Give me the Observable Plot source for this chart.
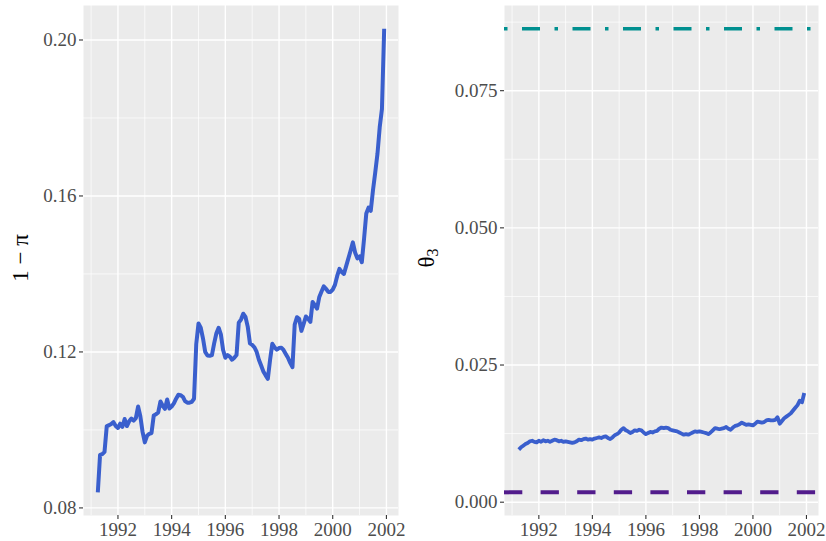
<!DOCTYPE html>
<html><head><meta charset="utf-8">
<script src="https://cdn.jsdelivr.net/npm/d3@7"></script>
<script src="https://cdn.jsdelivr.net/npm/@observablehq/plot@0.6"></script>
<style>
html,body{margin:0;padding:0;background:#fff;}
#chart{display:flex;width:826px;height:541px;}
#chart svg{display:block;}
#chart svg, #chart svg text{font-family:'Liberation Serif', 'DejaVu Serif', serif !important;}
</style></head><body><div id="chart"></div>
<script>
// Monthly observations, April 1991 – December 2001
const startYear = 1991, startMonth = 4;

const oneMinusPi = [
  0.0840, 0.0936, 0.0938, 0.0944, 0.1010, 0.1012, 0.1015, 0.1020, 0.1010,
  0.1005, 0.1016, 0.1008, 0.1028, 0.1010, 0.1022, 0.1029, 0.1024, 0.1030, 0.1060, 0.1035, 0.0995,
  0.0968, 0.0985, 0.0990, 0.0992, 0.1037, 0.1040, 0.1045, 0.1073, 0.1062, 0.1054, 0.1078, 0.1055,
  0.1060, 0.1068, 0.1080, 0.1090, 0.1089, 0.1085, 0.1074, 0.1070, 0.1070, 0.1072, 0.1080, 0.1220,
  0.1273, 0.1262, 0.1235, 0.1200, 0.1191, 0.1190, 0.1192, 0.1222, 0.1248, 0.1262, 0.1245, 0.1205,
  0.1185, 0.1192, 0.1188, 0.1180, 0.1185, 0.1192, 0.1275, 0.1283, 0.1298, 0.1290, 0.1265, 0.1222,
  0.1218, 0.1212, 0.1200, 0.1180, 0.1165, 0.1150, 0.1140, 0.1131, 0.1180, 0.1221, 0.1212, 0.1206,
  0.1210, 0.1211, 0.1205, 0.1195, 0.1185, 0.1172, 0.1161, 0.1270, 0.1289, 0.1285, 0.1254, 0.1272,
  0.1291, 0.1285, 0.1277, 0.1328, 0.1320, 0.1311, 0.1341, 0.1355, 0.1368, 0.1362, 0.1354, 0.1354,
  0.1360, 0.1372, 0.1395, 0.1413, 0.1405, 0.1400, 0.1420, 0.1440, 0.1460, 0.1481, 0.1455, 0.1440,
  0.1445, 0.1430, 0.1490, 0.1555, 0.1570, 0.1562, 0.1615, 0.1660, 0.1708, 0.1776, 0.1823, 0.2029
];

const theta3 = [
  0.0096, 0.0100, 0.0103, 0.0106, 0.0108, 0.0111, 0.0112, 0.0110, 0.0109,
  0.0112, 0.0110, 0.0113, 0.0111, 0.0112, 0.0110, 0.0112, 0.0114, 0.0113, 0.0111, 0.0112, 0.0110,
  0.0111, 0.0110, 0.0109, 0.0108, 0.0109, 0.0111, 0.0114, 0.0113, 0.0115, 0.0116, 0.0114, 0.0115,
  0.0114, 0.0116, 0.0117, 0.0118, 0.0117, 0.0119, 0.0120, 0.0117, 0.0115, 0.0118, 0.0122, 0.0124,
  0.0127, 0.0132, 0.0135, 0.0131, 0.0129, 0.0126, 0.0128, 0.0131, 0.0130, 0.0132, 0.0131, 0.0127,
  0.0124, 0.0126, 0.0128, 0.0127, 0.0129, 0.0130, 0.0134, 0.0136, 0.0135, 0.0136, 0.0135, 0.0132,
  0.0131, 0.0130, 0.0129, 0.0127, 0.0125, 0.0123, 0.0124, 0.0123, 0.0125, 0.0127, 0.0129, 0.0128,
  0.0129, 0.0128, 0.0127, 0.0126, 0.0124, 0.0127, 0.0131, 0.0135, 0.0134, 0.0133, 0.0134, 0.0135,
  0.0137, 0.0134, 0.0132, 0.0136, 0.0139, 0.0140, 0.0142, 0.0145, 0.0143, 0.0141, 0.0142, 0.0141,
  0.0140, 0.0143, 0.0147, 0.0146, 0.0145, 0.0146, 0.0149, 0.0150, 0.0149, 0.0149, 0.0150, 0.0155,
  0.0143, 0.0148, 0.0153, 0.0156, 0.0159, 0.0162, 0.0167, 0.0172, 0.0177, 0.0185, 0.0182, 0.0199
];

const theta3Upper = 0.0863;   // teal dot-dash reference line
const theta3Lower = 0.0018;   // purple dashed reference line

const xTicks = [1992, 1994, 1996, 1998, 2000, 2002];
const xMinor = [1991, 1993, 1995, 1997, 1999, 2001];
const leftYTicks = [0.08, 0.12, 0.16, 0.20];
const leftYMinor = [0.10, 0.14, 0.18];
const rightYTicks = [0, 0.025, 0.05, 0.075];
const rightYMinor = [0.0125, 0.0375, 0.0625, 0.0875];

const leftTitle = "1 \u2212 \u03c0";
const rightTitleMain = "\u03b8";
const rightTitleSub = "3";

// ---------------------------------------------------------------
const time = i => startYear + (startMonth - 1 + i) / 12;
const leftData = oneMinusPi.map((v, i) => ({t: time(i), v}));
const rightData = theta3.map((v, i) => ({t: time(i), v}));

const expand = ([a, b]) => { const p = (b - a) * 0.05; return [a - p, b + p]; };
const xDomain = expand(d3.extent(leftData, d => d.t));
const leftYDomain = expand(d3.extent(oneMinusPi));
const rightYDomain = expand(d3.extent([...theta3, theta3Upper, theta3Lower]));

const blue = "#3a5fcd", teal = "#009090", purple = "#521c8c";
const serif = "'Liberation Serif', 'DejaVu Serif', serif";

function panel({width, marginLeft, marginRight, yDomain, yTicks, yMinor, yFormat, marks}) {
  return Plot.plot({
    width, height: 541,
    marginTop: 5, marginBottom: 26, marginLeft, marginRight,
    x: {domain: xDomain},
    y: {domain: yDomain},
    style: {fontFamily: serif, fontSize: "19px", background: "white", color: "#4d4d4d", overflow: "visible"},
    marks: [
      Plot.frame({fill: "#ebebeb", stroke: "none"}),
      Plot.gridX({ticks: xMinor, stroke: "white", strokeOpacity: 1, strokeWidth: 0.7}),
      Plot.gridY({ticks: yMinor, stroke: "white", strokeOpacity: 1, strokeWidth: 0.7}),
      Plot.gridX({ticks: xTicks, stroke: "white", strokeOpacity: 1, strokeWidth: 1.4}),
      Plot.gridY({ticks: yTicks, stroke: "white", strokeOpacity: 1, strokeWidth: 1.4}),
      ...marks,
      Plot.axisX({ticks: xTicks, tickSize: 4, tickPadding: 3, tickFormat: d => String(d), label: null, stroke: "#333333", fill: "#4d4d4d", strokeWidth: 1.1, fontFamily: serif}),
      Plot.axisY({ticks: yTicks, tickSize: 4, tickPadding: 3, tickFormat: yFormat, label: null, stroke: "#333333", fill: "#4d4d4d", strokeWidth: 1.1, fontFamily: serif})
    ]
  });
}

const left = panel({
  width: 413, marginLeft: 83, marginRight: 15,
  yDomain: leftYDomain, yTicks: leftYTicks, yMinor: leftYMinor, yFormat: d3.format(".2f"),
  marks: [
    Plot.line(leftData, {x: "t", y: "v", stroke: blue, strokeWidth: 4, strokeLinecap: "butt", strokeLinejoin: "round"})
  ]
});

const right = panel({
  width: 413, marginLeft: 91, marginRight: 8,
  yDomain: rightYDomain, yTicks: rightYTicks, yMinor: rightYMinor, yFormat: d3.format(".3f"),
  marks: [
    Plot.ruleY([theta3Upper], {stroke: teal, strokeWidth: 3.5, strokeDasharray: "3.5,14.5,18,14.5", strokeLinecap: "butt"}),
    Plot.ruleY([theta3Lower], {stroke: purple, strokeWidth: 4, strokeDasharray: "18.3,18.3", strokeLinecap: "butt"}),
    Plot.line(rightData, {x: "t", y: "v", stroke: blue, strokeWidth: 3.8, strokeLinecap: "butt", strokeLinejoin: "round"})
  ]
});

const chart = document.getElementById("chart");
chart.appendChild(left);
chart.appendChild(right);

d3.select(left).append("text")
  .attr("transform", "translate(20,258) rotate(-90)")
  .attr("text-anchor", "middle")
  .attr("dominant-baseline", "central")
  .attr("font-family", serif)
  .attr("font-size", 23)
  .attr("fill", "black")
  .text(leftTitle);

const rt = d3.select(right).append("text")
  .attr("transform", "translate(13,258) rotate(-90)")
  .attr("text-anchor", "middle")
  .attr("dominant-baseline", "central")
  .attr("font-family", serif)
  .attr("font-size", 23)
  .attr("fill", "black");
rt.append("tspan").text(rightTitleMain);
rt.append("tspan").attr("font-size", 16).attr("dy", "0.35em").text(rightTitleSub);
</script>
</body></html>
